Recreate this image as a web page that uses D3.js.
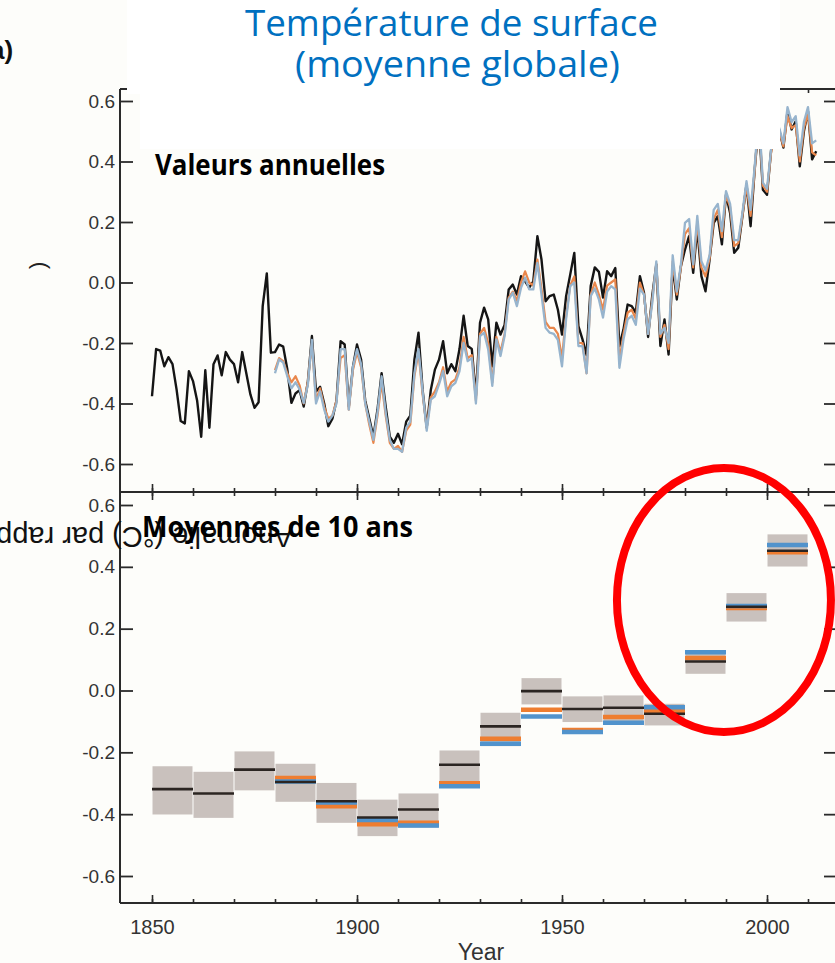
<!DOCTYPE html>
<html>
<head>
<meta charset="utf-8">
<script src="https://cdn.jsdelivr.net/npm/d3@7"></script>
<style>
	body { margin: 0; background: #fdfdfa; }
	svg { display: block; }
</style>
</head>
<body>
<div id="chart"></div>
<script>
// annual anomalies (°C), HadCRUT from 1850, the two other records from 1880
const hadcrutAnnual = [
	-0.376, -0.22, -0.225, -0.277, -0.247, -0.27, -0.354, -0.458, -0.466, -0.293,
	-0.326, -0.39, -0.51, -0.29, -0.48, -0.27, -0.241, -0.307, -0.23, -0.255,
	-0.27, -0.33, -0.23, -0.30, -0.37, -0.414, -0.396, -0.078, 0.03, -0.232,
	-0.23, -0.205, -0.212, -0.287, -0.398, -0.367, -0.356, -0.41, -0.33, -0.177,
	-0.36, -0.345, -0.40, -0.475, -0.45, -0.39, -0.194, -0.205, -0.41, -0.28,
	-0.205, -0.255, -0.39, -0.45, -0.51, -0.42, -0.30, -0.41, -0.51, -0.53,
	-0.50, -0.535, -0.46, -0.44, -0.255, -0.166, -0.355, -0.48, -0.355, -0.288,
	-0.255, -0.194, -0.30, -0.27, -0.293, -0.22, -0.11, -0.21, -0.22, -0.375,
	-0.133, -0.083, -0.122, -0.277, -0.133, -0.172, -0.14, -0.023, -0.007, -0.04,
	0.021, 0.004, -0.017, 0.004, 0.153, 0.076, -0.062, -0.045, -0.04, -0.09,
	-0.172, -0.045, 0.026, 0.098, -0.144, -0.188, -0.24, -0.012, 0.05, 0.035,
	-0.05, 0.037, 0.021, 0.048, -0.21, -0.155, -0.073, -0.078, -0.10, 0.021,
	-0.034, -0.18, -0.045, 0.06, -0.21, -0.122, -0.238, 0.055, -0.056, 0.054,
	0.109, 0.153, 0.032, 0.18, 0.021, -0.029, 0.076, 0.197, 0.219, 0.126,
	0.29, 0.23, 0.098, 0.115, 0.219, 0.324, 0.186, 0.374, 0.531, 0.307,
	0.29, 0.437, 0.492, 0.503, 0.446, 0.566, 0.506, 0.533, 0.384, 0.50,
	0.566, 0.407, 0.434
];
const nasaAnnual = [
	-0.30, -0.254, -0.265, -0.31, -0.35, -0.33, -0.353, -0.398, -0.34, -0.19,
	-0.40, -0.36, -0.42, -0.46, -0.44, -0.40, -0.22, -0.22, -0.42, -0.28,
	-0.22, -0.27, -0.40, -0.46, -0.52, -0.43, -0.31, -0.43, -0.52, -0.55,
	-0.55, -0.56, -0.48, -0.46, -0.30, -0.22, -0.36, -0.49, -0.387, -0.376,
	-0.337, -0.293, -0.376, -0.343, -0.332, -0.293, -0.20, -0.26, -0.25, -0.40,
	-0.177, -0.166, -0.221, -0.342, -0.188, -0.243, -0.177, -0.056, -0.034, -0.078,
	-0.018, 0.016, -0.023, -0.023, 0.065, -0.04, -0.15, -0.166, -0.17, -0.19,
	-0.277, -0.122, -0.012, 0.0, -0.21, -0.21, -0.30, -0.045, -0.02, -0.056,
	-0.116, -0.03, -0.012, -0.023, -0.282, -0.188, -0.122, -0.11, -0.14, -0.02,
	-0.04, -0.17, -0.07, 0.07, -0.17, -0.15, -0.20, 0.09, -0.03, 0.06,
	0.197, 0.21, 0.06, 0.22, 0.07, 0.04, 0.09, 0.24, 0.26, 0.17,
	0.302, 0.26, 0.14, 0.14, 0.23, 0.335, 0.24, 0.384, 0.56, 0.33,
	0.31, 0.44, 0.52, 0.51, 0.46, 0.58, 0.53, 0.55, 0.42, 0.53,
	0.58, 0.46, 0.47
];
const noaaAnnual = [
	-0.29, -0.25, -0.26, -0.30, -0.33, -0.31, -0.34, -0.40, -0.33, -0.20,
	-0.39, -0.35, -0.41, -0.45, -0.44, -0.39, -0.25, -0.24, -0.42, -0.29,
	-0.23, -0.28, -0.40, -0.47, -0.53, -0.44, -0.33, -0.44, -0.53, -0.55,
	-0.54, -0.56, -0.49, -0.47, -0.31, -0.23, -0.37, -0.48, -0.38, -0.36,
	-0.33, -0.28, -0.36, -0.33, -0.32, -0.28, -0.18, -0.25, -0.24, -0.39,
	-0.17, -0.15, -0.20, -0.33, -0.18, -0.23, -0.17, -0.05, -0.03, -0.06,
	0.0, 0.037, 0.0, -0.01, 0.076, -0.02, -0.13, -0.15, -0.15, -0.17,
	-0.25, -0.11, -0.01, 0.02, -0.20, -0.20, -0.30, -0.04, 0.0, -0.04,
	-0.09, -0.01, 0.0, 0.01, -0.26, -0.17, -0.10, -0.09, -0.12, 0.0,
	-0.04, -0.17, -0.06, 0.06, -0.18, -0.14, -0.22, 0.07, -0.04, 0.05,
	0.16, 0.18, 0.05, 0.20, 0.05, 0.02, 0.08, 0.21, 0.24, 0.15,
	0.29, 0.25, 0.12, 0.13, 0.22, 0.32, 0.22, 0.37, 0.55, 0.32,
	0.30, 0.43, 0.49, 0.50, 0.45, 0.55, 0.51, 0.52, 0.40, 0.51,
	0.56, 0.43, 0.42
];

// decadal means
const decades = [1850, 1860, 1870, 1880, 1890, 1900, 1910, 1920, 1930, 1940, 1950, 1960, 1970, 1980, 1990, 2000];
const hadcrutDecade = [-0.319, -0.333, -0.256, -0.296, -0.358, -0.411, -0.385, -0.24, -0.116, -0.002, -0.06, -0.056, -0.075, 0.094, 0.271, 0.452];
const hadcrutLow = [-0.401, -0.412, -0.323, -0.36, -0.428, -0.471, -0.444, -0.296, -0.18, -0.045, -0.102, -0.111, -0.113, 0.054, 0.223, 0.401];
const hadcrutHigh = [-0.245, -0.263, -0.197, -0.237, -0.299, -0.353, -0.333, -0.194, -0.072, 0.04, -0.019, -0.016, -0.043, 0.131, 0.315, 0.505];
const decadesOther = [1880, 1890, 1900, 1910, 1920, 1930, 1940, 1950, 1960, 1970, 1980, 1990, 2000];
const nasaDecade = [-0.294, -0.362, -0.419, -0.437, -0.31, -0.172, -0.084, -0.134, -0.104, -0.054, 0.124, 0.273, 0.471];
const noaaDecade = [-0.283, -0.374, -0.433, -0.428, -0.30, -0.156, -0.062, -0.128, -0.086, -0.066, 0.105, 0.267, 0.447];

const yTicks = [-0.6, -0.4, -0.2, 0.0, 0.2, 0.4, 0.6];
const xTicks = [1850, 1860, 1870, 1880, 1890, 1900, 1910, 1920, 1930, 1940, 1950, 1960, 1970, 1980, 1990, 2000, 2010];
const xMajor = [1850, 1900, 1950, 2000];

let svgWidth = 835, svgHeight = 963;
let frame = { 'left': 120, 'right': 837, 'top': 89, 'mid': 492, 'bottom': 903 };

let svg = d3.select('#chart').append('svg')
	.attr('width', svgWidth)
	.attr('height', svgHeight)
	.style('font-family', '"Liberation Sans", Arial, sans-serif');

svg.append('rect')
	.attr('width', svgWidth)
	.attr('height', svgHeight)
	.attr('fill', '#fdfdfa');

let x = d3.scaleLinear().domain([1850, 2000]).range([152, 767]);
let yTop = d3.scaleLinear().domain([-0.6, 0.6]).range([464, 101]);
let yBot = d3.scaleLinear().domain([-0.6, 0.6]).range([876, 505]);

// ---- top panel : annual values
let annual = [
	{ 'name': 'hadcrut', 'start': 1850, 'values': hadcrutAnnual, 'color': '#151515', 'width': 2.4 },
	{ 'name': 'noaa', 'start': 1880, 'values': noaaAnnual, 'color': '#e9874c', 'width': 2.2 },
	{ 'name': 'nasa', 'start': 1880, 'values': nasaAnnual, 'color': '#97b4cd', 'width': 2.3 }
];

let line = d3.line()
	.x(d => x(d[0]))
	.y(d => yTop(d[1]));

svg.append('g')
	.classed('annual', true)
	.selectAll('path')
	.data(annual)
	.enter()
	.append('path')
	.attr('d', s => line(s.values.map((v, i) => [s.start + i, v])))
	.attr('fill', 'none')
	.attr('stroke', s => s.color)
	.attr('stroke-width', s => s.width)
	.attr('stroke-linejoin', 'round');

// white boxes of the title and of the label (they hide the frame top and the 1998 peak)
svg.append('rect')
	.attr('x', 127).attr('y', 0)
	.attr('width', 653).attr('height', 93)
	.attr('fill', '#ffffff');
svg.append('rect')
	.attr('x', 140).attr('y', 93)
	.attr('width', 640).attr('height', 56)
	.attr('fill', '#ffffff');

// ---- bottom panel : 10 year means
let body = svg.append('g').classed('decades', true);

body.selectAll('.box')
	.data(decades)
	.enter()
	.append('rect')
	.attr('class', 'box')
	.attr('x', d => x(d) + 0.5)
	.attr('width', d => x(d + 10) - x(d) - 1)
	.attr('y', (d, i) => yBot(hadcrutHigh[i]))
	.attr('height', (d, i) => yBot(hadcrutLow[i]) - yBot(hadcrutHigh[i]))
	.attr('fill', '#c9c1bd');

function decadeBars(years, values, color, thick) {
	body.append('g')
		.selectAll('line')
		.data(years)
		.enter()
		.append('line')
		.attr('x1', d => x(d))
		.attr('x2', d => x(d + 10))
		.attr('y1', (d, i) => yBot(values[i]))
		.attr('y2', (d, i) => yBot(values[i]))
		.attr('stroke', color)
		.attr('stroke-width', thick);
}
decadeBars(decadesOther, noaaDecade, '#ee7d30', 4.5);
decadeBars(decadesOther, nasaDecade, '#5193cc', 4.5);
decadeBars(decades, hadcrutDecade, '#2b2522', 2.6);

// ---- axes
let axes = svg.append('g').classed('axes', true).attr('color', '#2a2a2a');
let fmt = d => d.toFixed(1);

function yAxes(scale) {
	axes.append('g')
		.attr('transform', `translate(${frame.left}, 0)`)
		.call(d3.axisLeft(scale).tickValues(yTicks).tickSize(-13).tickPadding(5).tickFormat(fmt))
		.call(g => g.select('.domain').remove())
		.call(g => g.selectAll('line').attr('stroke-width', 1.8))
		.call(g => g.selectAll('text').attr('fill', '#333').style('font-size', '19px'));
	axes.append('g')
		.attr('transform', `translate(${frame.right}, 0)`)
		.call(d3.axisRight(scale).tickValues(yTicks).tickSize(-13).tickFormat(''))
		.call(g => g.select('.domain').remove())
		.call(g => g.selectAll('line').attr('stroke-width', 1.8));
}
yAxes(yTop);
yAxes(yBot);

function xTickRow(yPos, maker, size, values) {
	axes.append('g')
		.attr('transform', `translate(0, ${yPos})`)
		.call(maker(x).tickValues(values).tickSize(size).tickFormat(''))
		.call(g => g.select('.domain').remove())
		.call(g => g.selectAll('line').attr('stroke-width', 1.6));
}
// top of the annual panel (hidden under the title box except at the right)
xTickRow(frame.top, d3.axisBottom, 4, xTicks);
// shared line between the panels
xTickRow(frame.mid, d3.axisTop, 4, xTicks);
xTickRow(frame.mid, d3.axisBottom, 4, xTicks);
xTickRow(frame.mid, d3.axisTop, 8, xMajor);
xTickRow(frame.mid, d3.axisBottom, 8, xMajor);
// bottom axis
xTickRow(frame.bottom, d3.axisBottom, -4, xTicks);
axes.append('g')
	.attr('transform', `translate(0, ${frame.bottom})`)
	.call(d3.axisBottom(x).tickValues(xMajor).tickSize(-8).tickPadding(17).tickFormat(d3.format('d')))
	.call(g => g.select('.domain').remove())
	.call(g => g.selectAll('line').attr('stroke-width', 1.6))
	.call(g => g.selectAll('text').attr('fill', '#333').style('font-size', '20px'));

// frame lines
let frameLines = [
	[frame.left, frame.top, frame.left, frame.bottom],
	[frame.left, frame.top, frame.right, frame.top],
	[frame.left, frame.mid, frame.right, frame.mid],
	[frame.left, frame.bottom, frame.right, frame.bottom]
];
axes.selectAll('.frame')
	.data(frameLines)
	.enter()
	.append('line')
	.attr('class', 'frame')
	.attr('x1', d => d[0]).attr('y1', d => d[1])
	.attr('x2', d => d[2]).attr('y2', d => d[3])
	.attr('stroke', '#2a2a2a')
	.attr('stroke-width', 2);

// cover the top frame under the title again
svg.append('rect')
	.attr('x', 127).attr('y', 80)
	.attr('width', 653).attr('height', 14)
	.attr('fill', '#ffffff');

// ---- texts
svg.append('text')
	.attr('x', 245).attr('y', 36)
	.attr('textLength', 413)
	.attr('lengthAdjust', 'spacingAndGlyphs')
	.attr('fill', '#0070c0')
	.style('font-family', '"Open Sans", "Noto Sans", sans-serif')
	.style('font-size', '36px')
	.text('Température de surface');
svg.append('text')
	.attr('x', 295).attr('y', 77)
	.attr('textLength', 325)
	.attr('lengthAdjust', 'spacingAndGlyphs')
	.attr('fill', '#0070c0')
	.style('font-family', '"Open Sans", "Noto Sans", sans-serif')
	.style('font-size', '36px')
	.text('(moyenne globale)');

svg.append('text')
	.attr('x', -10).attr('y', 59)
	.attr('fill', '#111')
	.attr('font-weight', 'bold')
	.style('font-size', '26px')
	.text('a)');

svg.append('text')
	.attr('transform', 'translate(45, 269) rotate(-90)')
	.attr('fill', '#222')
	.style('font-size', '22px')
	.text(')');

svg.append('text')
	.attr('transform', 'translate(293, 527) rotate(180)')
	.attr('fill', '#111')
	.style('font-size', '29px')
	.text('Anomalie (°C) par rapport à 1961-1990');

svg.append('text')
	.attr('x', 155).attr('y', 175)
	.attr('textLength', 230)
	.attr('lengthAdjust', 'spacingAndGlyphs')
	.attr('fill', '#000')
	.attr('font-weight', 'bold')
	.style('font-family', '"Open Sans", "Noto Sans", sans-serif')
	.style('font-size', '28px')
	.text('Valeurs annuelles');

svg.append('text')
	.attr('x', 142).attr('y', 537)
	.attr('textLength', 271)
	.attr('lengthAdjust', 'spacingAndGlyphs')
	.attr('fill', '#000')
	.attr('font-weight', 'bold')
	.style('font-family', '"Open Sans", "Noto Sans", sans-serif')
	.style('font-size', '28px')
	.text('Moyennes de 10 ans');

svg.append('text')
	.attr('x', 481).attr('y', 960)
	.attr('text-anchor', 'middle')
	.attr('fill', '#333')
	.style('font-size', '23px')
	.text('Year');

// red highlight round the last three decades
svg.append('ellipse')
	.attr('cx', x(1989.5))
	.attr('cy', 600)
	.attr('rx', 107)
	.attr('ry', 132)
	.attr('fill', 'none')
	.attr('stroke', '#ff0000')
	.attr('stroke-width', 8);
</script>
</body>
</html>
